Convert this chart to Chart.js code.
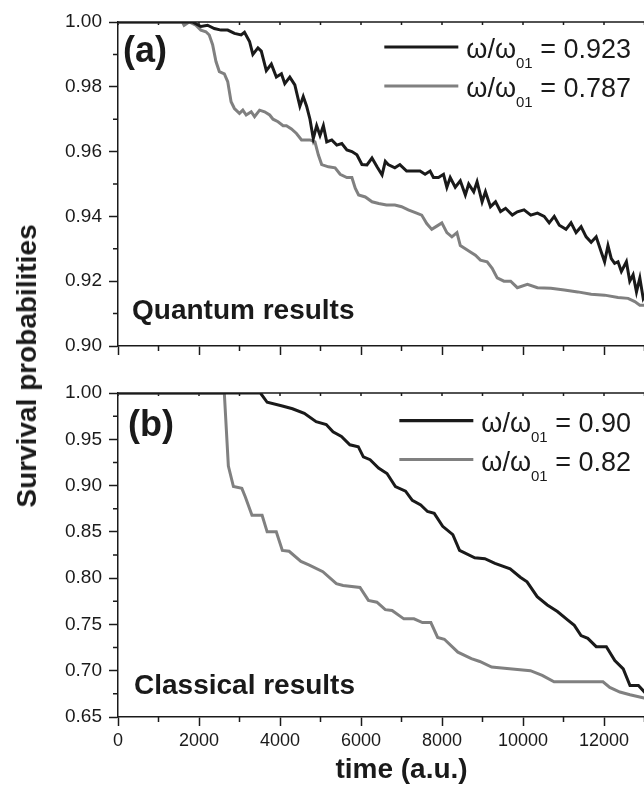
<!DOCTYPE html>
<html>
<head>
<meta charset="utf-8">
<script src="https://cdn.jsdelivr.net/npm/chart.js@4.4.1/dist/chart.umd.min.js"></script>
<style>
html, body { margin: 0; padding: 0; background: #fff; overflow: hidden; width: 644px; height: 787px; }
#wrap { position: relative; width: 700px; height: 787px; }
canvas { position: absolute; left: 0; }
#panelA { top: 0; }
#panelB { top: 365px; }
#ytitle {
    position: absolute; left: 27px; top: 366px;
    transform: translate(-50%, -50%) rotate(-90deg);
    font: bold 28px "Liberation Sans", Arial, sans-serif; color: #1a1a1a; white-space: nowrap;
}
</style>
</head>
<body>
<div id="wrap">
    <canvas id="panelA" width="700" height="370"></canvas>
    <canvas id="panelB" width="700" height="422"></canvas>
    <div id="ytitle">Survival probabilities</div>
</div>
<script>
const FONT = '"Liberation Sans", Arial, sans-serif';
const INK = '#1a1a1a';
const GREY = '#808080';

// time axis (a.u.)
const timeMin = 0;
const timeMax = 14000;

// (a) quantum results
const quantumRatios = ['0.923', '0.787'];
const quantumHighT = [0, 1632, 1840, 2046, 2212, 2378, 2543, 2709, 2875, 3040, 3123, 3248, 3330, 3455, 3538, 3662, 3786, 3910, 4035, 4118,
    4242, 4366, 4491, 4574, 4657, 4740, 4822, 4905, 4988, 5071, 5154, 5278, 5402, 5526, 5651, 5775, 5899, 6023, 6147, 6271,
    6396, 6520, 6600, 6670, 6836, 6960, 7126, 7292, 7457, 7582, 7706, 7789, 7913, 8037, 8120, 8203, 8327, 8452, 8576, 8659,
    8783, 8866, 8990, 9073, 9197, 9322, 9446, 9570, 9736, 9860, 10026, 10192, 10357, 10523, 10647, 10772, 10896, 11062, 11186, 11310,
    11435, 11559, 11683, 11807, 11932, 12015, 12098, 12180, 12263, 12346, 12429, 12553, 12636, 12719, 12802, 12885, 12968, 13050];
const quantumHighP = [1.000, 1.000, 1.000, 0.9986, 0.999, 0.998, 0.9975, 0.9975, 0.9965, 0.996, 0.9968, 0.994, 0.990, 0.992, 0.991, 0.985, 0.987, 0.983, 0.984, 0.981,
    0.983, 0.9806, 0.974, 0.977, 0.974, 0.970, 0.964, 0.968, 0.965, 0.968, 0.963, 0.9636, 0.962, 0.9625, 0.9605, 0.960, 0.959, 0.956, 0.9559, 0.958,
    0.9553, 0.9528, 0.957, 0.956, 0.955, 0.956, 0.954, 0.954, 0.954, 0.953, 0.954, 0.952, 0.952, 0.953, 0.949, 0.952, 0.949, 0.951, 0.9466, 0.950,
    0.9476, 0.9507, 0.9445, 0.9476, 0.943, 0.9445, 0.9415, 0.9425, 0.9404, 0.9414, 0.942, 0.9404, 0.941, 0.940, 0.938, 0.940, 0.9373, 0.936, 0.938, 0.935,
    0.9368, 0.9337, 0.932, 0.9337, 0.929, 0.926, 0.931, 0.927, 0.9255, 0.926, 0.923, 0.926, 0.920, 0.922, 0.9167, 0.921, 0.9147, 0.9167];
const quantumLowT = [0, 1590, 1632, 1757, 1922, 2046, 2171, 2253, 2336, 2419, 2502, 2626, 2709, 2792, 2875, 2999, 3082, 3165, 3289, 3372,
    3496, 3620, 3745, 3828, 3952, 4076, 4159, 4283, 4407, 4532, 4739, 4863, 4946, 5029, 5195, 5361, 5485, 5651, 5775, 5858,
    5941, 6106, 6272, 6437, 6629, 6836, 7002, 7167, 7374, 7499, 7623, 7747, 7872, 7996, 8120, 8244, 8369, 8452, 8576, 8700,
    8825, 8949, 9115, 9239, 9363, 9529, 9695, 9860, 10109, 10357, 10689, 11020, 11352, 11683, 12015, 12346, 12595, 12760, 12885, 13067];
const quantumLowP = [1.000, 1.000, 0.999, 1.000, 0.999, 0.9975, 0.997, 0.996, 0.993, 0.9878, 0.9847, 0.984, 0.9816, 0.9754, 0.9733, 0.9718, 0.9728, 0.9713, 0.9723, 0.9708,
    0.9728, 0.9723, 0.9713, 0.970, 0.9692, 0.968, 0.968, 0.967, 0.9656, 0.9636, 0.9636, 0.963, 0.959, 0.956, 0.9553, 0.955, 0.953, 0.952, 0.952, 0.9487,
    0.9466, 0.946, 0.9445, 0.944, 0.9435, 0.9435, 0.943, 0.942, 0.941, 0.9404, 0.9378, 0.936, 0.937, 0.938, 0.935, 0.9337, 0.935, 0.931, 0.930, 0.929,
    0.928, 0.9265, 0.926, 0.924, 0.921, 0.920, 0.920, 0.918, 0.919, 0.918, 0.9178, 0.9173, 0.9167, 0.916, 0.9157, 0.915, 0.9147, 0.9137, 0.9126, 0.9126];

// (b) classical results
const classicalRatios = ['0.90', '0.82'];
const classicalHighT = [0, 3517, 3683, 4058, 4308, 4600, 4892, 5142, 5308, 5517, 5725, 5933, 6058, 6225, 6433, 6642, 6850, 7100, 7267, 7475,
    7642, 7808, 8017, 8267, 8433, 8808, 9058, 9308, 9683, 9933, 10100, 10350, 10600, 10850, 11100, 11267, 11433, 11600, 11808, 12058,
    12267, 12475, 12642, 12850, 13042];
const classicalHighP = [1.000, 1.000, 0.990, 0.986, 0.983, 0.978, 0.969, 0.966, 0.958, 0.953, 0.944, 0.942, 0.931, 0.928, 0.919, 0.913, 0.899, 0.894, 0.884, 0.879,
    0.872, 0.870, 0.856, 0.847, 0.830, 0.822, 0.821, 0.816, 0.810, 0.801, 0.796, 0.780, 0.771, 0.764, 0.755, 0.749, 0.738, 0.735, 0.726, 0.726,
    0.711, 0.702, 0.684, 0.684, 0.675];
const classicalLowT = [0, 2625, 2725, 2850, 3058, 3142, 3308, 3558, 3683, 3908, 4058, 4225, 4517, 4725, 5058, 5392, 5558, 5975, 6183, 6392,
    6600, 6767, 7058, 7308, 7517, 7725, 7892, 8058, 8392, 8725, 8933, 9225, 9475, 10183, 10475, 10767, 11975, 12142, 12392, 12642, 13042];
const classicalLowP = [1.000, 1.000, 0.921, 0.899, 0.897, 0.888, 0.868, 0.868, 0.850, 0.850, 0.830, 0.829, 0.818, 0.814, 0.807, 0.794, 0.792, 0.790, 0.776, 0.774,
    0.766, 0.765, 0.756, 0.756, 0.752, 0.752, 0.736, 0.734, 0.720, 0.713, 0.710, 0.704, 0.703, 0.700, 0.695, 0.688, 0.688, 0.682, 0.677, 0.674, 0.670];

function points(ts, ps) {
    return ts.map((t, i) => ({ x: t, y: ps[i] }));
}

function drawLegendRow(ctx, right, y, ratio, color) {
    const main = '27px ' + FONT;
    const sub = '15px ' + FONT;
    ctx.font = main;
    const w1 = ctx.measureText('ω/ω').width;
    const w3 = ctx.measureText(' = ' + ratio).width;
    ctx.font = sub;
    const w2 = ctx.measureText('01').width;
    const start = right - w1 - w2 - w3;

    ctx.fillStyle = INK;
    ctx.textAlign = 'left';
    ctx.textBaseline = 'alphabetic';
    ctx.font = main;
    ctx.fillText('ω/ω', start, y + 11);
    ctx.font = sub;
    ctx.fillText('01', start + w1, y + 21);
    ctx.font = main;
    ctx.fillText(' = ' + ratio, start + w1 + w2, y + 11);

    ctx.strokeStyle = color;
    ctx.lineWidth = 3.2;
    ctx.beginPath();
    ctx.moveTo(start - 8 - 74, y);
    ctx.lineTo(start - 8, y);
    ctx.stroke();
}

function makePanel(id, cfg) {
    const xMajor = v => Math.round(v / 1000) % 2 === 0;

    // frame, minor ticks, legend and labels
    const decor = {
        id: 'decor_' + id,
        beforeDatasetsDraw(chart) {
            const { ctx, chartArea: a, scales: { x, y } } = chart;
            ctx.save();
            ctx.strokeStyle = INK;
            ctx.lineWidth = 1.5;
            ctx.beginPath();
            ctx.moveTo(a.left, a.top);
            ctx.lineTo(a.right, a.top);
            x.ticks.forEach(t => {
                const px = x.getPixelForValue(t.value);
                ctx.moveTo(px, a.top);
                ctx.lineTo(px, a.top + 3);
                if (!xMajor(t.value)) {
                    ctx.moveTo(px, a.bottom);
                    ctx.lineTo(px, a.bottom + 5);
                }
            });
            y.ticks.forEach(t => {
                if (!cfg.yMajor(t.value)) {
                    const py = y.getPixelForValue(t.value);
                    ctx.moveTo(a.left, py);
                    ctx.lineTo(a.left - 5, py);
                }
            });
            ctx.stroke();
            ctx.restore();
        },
        afterDraw(chart) {
            const ctx = chart.ctx;
            ctx.save();
            cfg.ratios.forEach((r, i) => drawLegendRow(ctx, 631, cfg.legendRows[i], r, cfg.colors[i]));
            ctx.fillStyle = INK;
            ctx.textAlign = 'left';
            ctx.textBaseline = 'alphabetic';
            ctx.font = 'bold 36px ' + FONT;
            ctx.fillText(cfg.tag, cfg.tagPos[0], cfg.tagPos[1]);
            ctx.font = 'bold 28px ' + FONT;
            ctx.fillText(cfg.note, cfg.notePos[0], cfg.notePos[1]);
            ctx.restore();
        }
    };

    return new Chart(document.getElementById(id), {
        type: 'line',
        data: {
            datasets: cfg.series.map((s, i) => ({
                label: 'ω/ω01 = ' + cfg.ratios[i],
                data: s,
                borderColor: cfg.colors[i],
                borderWidth: 3,
                pointRadius: 0,
                tension: 0,
                fill: false
            }))
        },
        options: {
            responsive: false,
            animation: false,
            layout: { padding: { top: cfg.padTop, right: 15, left: 0, bottom: 0 } },
            scales: {
                x: {
                    type: 'linear',
                    min: timeMin,
                    max: timeMax,
                    afterFit(s) { s.height = cfg.xHeight; s.paddingLeft = 0; s.paddingRight = 0; },
                    ticks: {
                        display: cfg.xLabels,
                        stepSize: 1000,
                        autoSkip: false,
                        maxRotation: 0,
                        padding: 4,
                        color: INK,
                        font: { family: FONT, size: 18 },
                        callback: v => xMajor(v) ? String(v) : ''
                    },
                    grid: {
                        drawOnChartArea: false,
                        tickLength: 9,
                        tickWidth: 1.5,
                        tickColor: c => (c.tick && xMajor(c.tick.value)) ? INK : 'rgba(0,0,0,0)'
                    },
                    border: { color: INK, width: 1.5 },
                    title: {
                        display: cfg.xLabels,
                        text: 'time (a.u.)',
                        color: INK,
                        font: { family: FONT, size: 28, weight: 'bold' },
                        padding: { top: 0, bottom: 0 }
                    }
                },
                y: {
                    min: cfg.yMin,
                    max: 1,
                    afterFit(s) { s.width = 118; s.paddingTop = 0; s.paddingBottom = 0; },
                    ticks: {
                        stepSize: cfg.yStep,
                        autoSkip: false,
                        padding: 7,
                        color: INK,
                        font: { family: FONT, size: 19 },
                        callback: v => cfg.yMajor(v) ? v.toFixed(2) : ''
                    },
                    grid: {
                        drawOnChartArea: false,
                        tickLength: 9,
                        tickWidth: 1.5,
                        tickColor: c => (c.tick && cfg.yMajor(c.tick.value)) ? INK : 'rgba(0,0,0,0)'
                    },
                    border: { color: INK, width: 1.5 }
                }
            },
            plugins: {
                legend: { display: false },
                tooltip: { enabled: false }
            }
        },
        plugins: [decor]
    });
}

makePanel('panelA', {
    series: [points(quantumHighT, quantumHighP), points(quantumLowT, quantumLowP)],
    ratios: quantumRatios,
    colors: [INK, GREY],
    yMin: 0.90,
    yStep: 0.01,
    yMajor: v => Math.round(v * 100) % 2 === 0,
    padTop: 22,
    xHeight: 24,
    xLabels: false,
    legendRows: [47, 86],
    tag: '(a)',
    tagPos: [123, 62],
    note: 'Quantum results',
    notePos: [132, 319]
});

makePanel('panelB', {
    series: [points(classicalHighT, classicalHighP), points(classicalLowT, classicalLowP)],
    ratios: classicalRatios,
    colors: [INK, GREY],
    yMin: 0.65,
    yStep: 0.025,
    yMajor: v => Math.round(v * 1000) % 50 === 0,
    padTop: 28,
    xHeight: 70,
    xLabels: true,
    legendRows: [55.6, 94.5],
    tag: '(b)',
    tagPos: [128, 70.5],
    note: 'Classical results',
    notePos: [134, 329]
});
</script>
</body>
</html>
